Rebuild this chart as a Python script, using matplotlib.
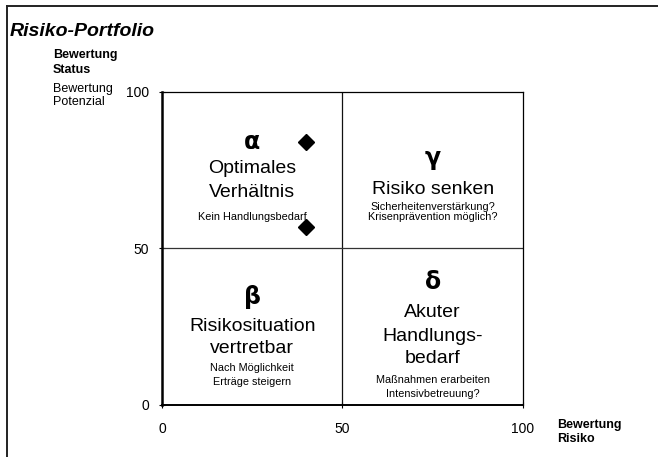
"""
Risiko-Portfolio: Vier-Felder-Matrix (Bewertung Risiko vs. Bewertung Status/Potenzial)
"""
import matplotlib
matplotlib.use('Agg')
import matplotlib.pyplot as plt
from matplotlib.lines import Line2D

plt.rcParams['font.family'] = ['Liberation Sans', 'DejaVu Sans']

# Daten
punkte_risiko = [40, 40]
punkte_status = [84, 57]

ticks = [0, 50, 100]

quadranten = ['α', 'γ', 'β', 'δ']
titel = [
    ['Optimales', 'Verhältnis'],
    ['Risiko senken'],
    ['Risikosituation', 'vertretbar'],
    ['Akuter', 'Handlungs-', 'bedarf'],
]
hinweise = [
    ['Kein Handlungsbedarf'],
    ['Sicherheitenverstärkung?', 'Krisenprävention möglich?'],
    ['Nach Möglichkeit', 'Erträge steigern'],
    ['Maßnahmen erarbeiten', 'Intensivbetreuung?'],
]

# Layout (x-Mitte, y von Symbol, Titelzeilen, Hinweiszeilen)
layout = [
    (25, 84, [75.4, 68.0], [60.0]),
    (75, 79, [68.7], [63.3, 60.0]),
    (25, 34.5, [25.2, 17.9], [11.8, 7.3]),
    (75, 39.3, [29.7, 22.0, 14.7], [8.0, 3.5]),
]

fig = plt.figure(figsize=(6.58, 4.57), dpi=100)
ax = fig.add_axes([0.2462, 0.1138, 0.5486, 0.6849])

ax.set_xlim(0, 100)
ax.set_ylim(0, 100)
ax.axvline(50, color='#111111', linewidth=0.9)
ax.axhline(50, color='#333333', linewidth=0.9)

ax.plot(punkte_risiko, punkte_status, linestyle='none', marker='D',
        markersize=8, color='black')

for sym, zeilen, notiz, (xc, ys, yt, yn) in zip(quadranten, titel, hinweise, layout):
    ax.text(xc, ys, sym, fontsize=17, fontweight='bold', ha='center', va='center',
            family=['DejaVu Sans'])
    for txt, y in zip(zeilen, yt):
        ax.text(xc, y, txt, fontsize=14, ha='center', va='center')
    for txt, y in zip(notiz, yn):
        ax.text(xc, y, txt, fontsize=7.8, ha='center', va='center')

for s in ax.spines.values():
    s.set_color('black')
ax.spines['left'].set_linewidth(1.8)
ax.spines['bottom'].set_linewidth(1.4)
ax.spines['top'].set_linewidth(0.9)
ax.spines['right'].set_linewidth(0.9)

ax.set_xticks(ticks)
ax.set_yticks(ticks)
ax.tick_params(direction='inout', length=5, width=0.8, labelsize=10)
ax.tick_params(axis='x', pad=10)
ax.tick_params(axis='y', pad=7)

# Achsenbeschriftungen
fig.text(0.846, 0.055, 'Bewertung\nRisiko', fontsize=9, fontweight='bold',
         ha='left', va='center', linespacing=1.25)
fig.text(0.080, 0.863, 'Bewertung\nStatus', fontsize=9, fontweight='bold',
         ha='left', va='center', linespacing=1.3)
fig.text(0.080, 0.791, 'Bewertung\nPotenzial', fontsize=9,
         ha='left', va='center', linespacing=1.1)

fig.text(0.015, 0.930, 'Risiko-Portfolio', fontsize=14, fontweight='bold',
         style='italic', ha='left', va='center')

# Rahmen (rechts und unten abgeschnitten)
fig.add_artist(Line2D([0.011, 0.011], [0.0, 0.986], color='#222222',
                      linewidth=1.4, transform=fig.transFigure))
fig.add_artist(Line2D([0.011, 1.0], [0.986, 0.986], color='#222222',
                      linewidth=1.4, transform=fig.transFigure))

fig.savefig('out.png', dpi=100)
print("saved: out.png")
